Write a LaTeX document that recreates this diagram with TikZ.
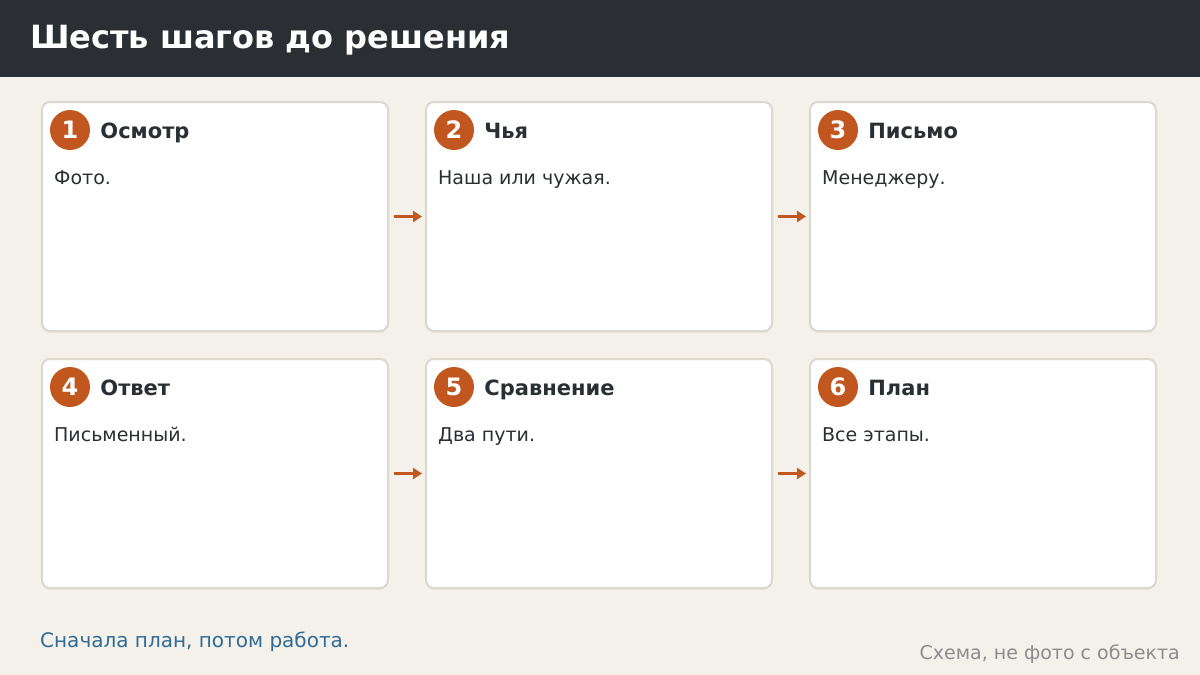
\documentclass[tikz,border=0pt]{standalone}
\usepackage{fontspec}
\setmainfont{DejaVu Sans}
\usetikzlibrary{positioning,arrows.meta,shadows}
\definecolor{pagebg}{HTML}{F4F1EA}
\definecolor{headbg}{HTML}{2B2E33}
\definecolor{ink}{HTML}{2B2E33}
\definecolor{cardline}{HTML}{DDD8CE}
\definecolor{stepclr}{HTML}{C1571F}
\definecolor{notebl}{HTML}{2E6B96}
\definecolor{notegr}{HTML}{8C8C8C}
\tikzset{
  card/.style={draw=cardline, line width=2pt, fill=white, rounded corners=8pt,
    minimum width=346pt, minimum height=229pt, inner sep=0pt,
    drop shadow={shadow xshift=0pt, shadow yshift=-1.5pt, fill=cardline, opacity=.8}},
  num/.style={circle, fill=stepclr, text=white, inner sep=0pt, minimum size=40pt,
    font=\fontsize{24}{24}\selectfont\bfseries},
  head/.style={text=ink, inner sep=0pt, anchor=base west, font=\fontsize{21}{24}\selectfont\bfseries},
  body/.style={text=ink, inner sep=0pt, anchor=base west, font=\fontsize{19}{22}\selectfont},
  flow/.style={draw=stepclr, line width=3pt, -{Triangle[length=9pt,width=11pt]}}
}
\begin{document}
\begin{tikzpicture}[x=1pt,y=1pt]
\useasboundingbox (0,0) rectangle (1200,-675);
\fill[pagebg] (0,0) rectangle (1200,-675);
\fill[headbg] (0,0) rectangle (1200,-77);
\node (title) [anchor=base west, inner sep=0pt, text=white, font=\fontsize{32}{36}\selectfont\bfseries]
  at (30,-48) {Шесть шагов до решения};
\foreach \i/\x/\y/\t/\b in {1/215/-216.5/Осмотр/Фото.,
  2/599/-216.5/Чья/Наша или чужая.,
  3/983/-216.5/Письмо/Менеджеру.,
  4/215/-473.5/Ответ/Письменный.,
  5/599/-473.5/Сравнение/Два пути.,
  6/983/-473.5/План/Все этапы.}{
  \node (c\i) [card] at (\x,\y) {};
  \node (n\i) [num] at ([xshift=29pt,yshift=-29pt]c\i.north west) {\i};
  \node (h\i) [head] at ([xshift=10pt,yshift=-8pt]n\i.east) {\t};
  \node (b\i) [body] at ([xshift=13pt,yshift=-83pt]c\i.north west) {\b};
}
\foreach \a/\z in {1/2,2/3,4/5,5/6}
  \draw[flow] ([xshift=5pt]c\a.east) -- ([xshift=-3pt]c\z.west);
\node (lead) [anchor=base west, inner sep=0pt, text=notebl, font=\fontsize{20}{24}\selectfont]
  at (40,-647) {Сначала план, потом работа.};
\node (src) [anchor=base east, inner sep=0pt, text=notegr, font=\fontsize{19}{22}\selectfont]
  at (1180,-659) {Схема, не фото с объекта};
\end{tikzpicture}
\end{document}
